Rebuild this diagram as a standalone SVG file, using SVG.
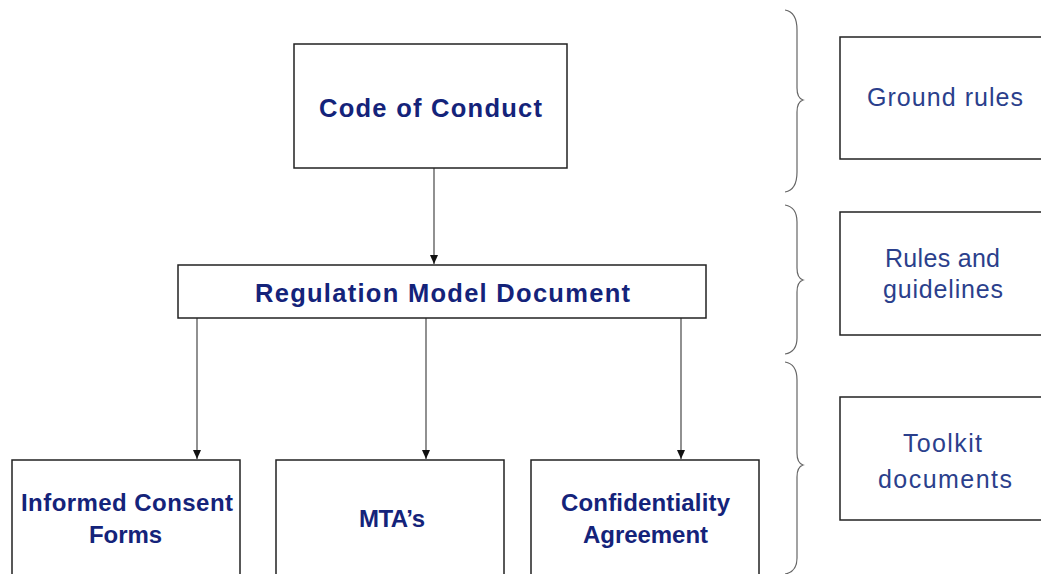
<svg xmlns="http://www.w3.org/2000/svg" width="1041" height="574" viewBox="0 0 1041 574">
<style>
.box{fill:#fff;stroke:#222;stroke-width:1.5}
.t{font-family:"Liberation Sans",Arial,sans-serif;font-weight:bold;font-size:24px;fill:#14237a;text-anchor:middle}
.big{font-size:25.5px}
.r{font-family:"Liberation Sans",Arial,sans-serif;font-size:25px;fill:#2b3f8c;text-anchor:middle}
.c{stroke:#555;stroke-width:1.3;fill:none}
.b{stroke:#666;stroke-width:1.2;fill:none}
</style>
<defs>
<marker id="ah" markerWidth="10" markerHeight="10" refX="9" refY="5" orient="auto" markerUnits="userSpaceOnUse">
<path d="M0,1 L9,5 L0,9 z" fill="#111"/>
</marker>
</defs>
<rect width="1041" height="574" fill="#fff"/>
<g id="connectors">
<line class="c" x1="434" y1="168" x2="434" y2="264" marker-end="url(#ah)"/>
<line class="c" x1="197" y1="318" x2="197" y2="459" marker-end="url(#ah)"/>
<line class="c" x1="426" y1="318" x2="426" y2="459" marker-end="url(#ah)"/>
<line class="c" x1="681" y1="318" x2="681" y2="459" marker-end="url(#ah)"/>
</g>
<g id="code">
<rect class="box" x="294" y="44" width="273" height="124"/>
<text class="t big" x="430.5" y="117" textLength="223" lengthAdjust="spacing">Code of Conduct</text>
</g>
<g id="regulation">
<rect class="box" x="178" y="265" width="528" height="53"/>
<text class="t big" x="442.5" y="302" textLength="375" lengthAdjust="spacing">Regulation Model Document</text>
</g>
<g id="informed">
<rect class="box" x="12" y="460" width="228" height="130"/>
<text class="t" x="127" y="511" textLength="212" lengthAdjust="spacing">Informed Consent</text>
<text class="t" x="125.5" y="543" textLength="73" lengthAdjust="spacing">Forms</text>
</g>
<g id="mta">
<rect class="box" x="276" y="460" width="228" height="130"/>
<text class="t" x="392" y="527" textLength="66" lengthAdjust="spacing">MTA’s</text>
</g>
<g id="conf">
<rect class="box" x="531" y="460" width="228" height="130"/>
<text class="t" x="645.5" y="511" textLength="169" lengthAdjust="spacing">Confidentiality</text>
<text class="t" x="645.5" y="543" textLength="125" lengthAdjust="spacing">Agreement</text>
</g>
<g id="braces">
<path class="b" d="M785,10 Q797,12 797,30 L797,88 Q797,98 803,100 Q797,102 797,112 L797,172 Q797,190 785,192"/>
<path class="b" d="M785,205 Q797,207 797,222 L797,268 Q797,278 803,280 Q797,282 797,292 L797,338 Q797,352 785,354"/>
<path class="b" d="M785,362 Q797,364 797,380 L797,453 Q797,463 803,465 Q797,467 797,477 L797,558 Q797,572 785,574"/>
</g>
<g id="ground">
<rect class="box" x="840" y="37" width="210" height="122"/>
<text class="r" x="945" y="106" textLength="156" lengthAdjust="spacing">Ground rules</text>
</g>
<g id="rules">
<rect class="box" x="840" y="212" width="210" height="123"/>
<text class="r" x="942.5" y="267" textLength="115" lengthAdjust="spacing">Rules and</text>
<text class="r" x="943" y="298" textLength="120" lengthAdjust="spacing">guidelines</text>
</g>
<g id="toolkit">
<rect class="box" x="840" y="397" width="210" height="123"/>
<text class="r" x="942.5" y="452" textLength="79" lengthAdjust="spacing">Toolkit</text>
<text class="r" x="945" y="488" textLength="134" lengthAdjust="spacing">documents</text>
</g>
</svg>
